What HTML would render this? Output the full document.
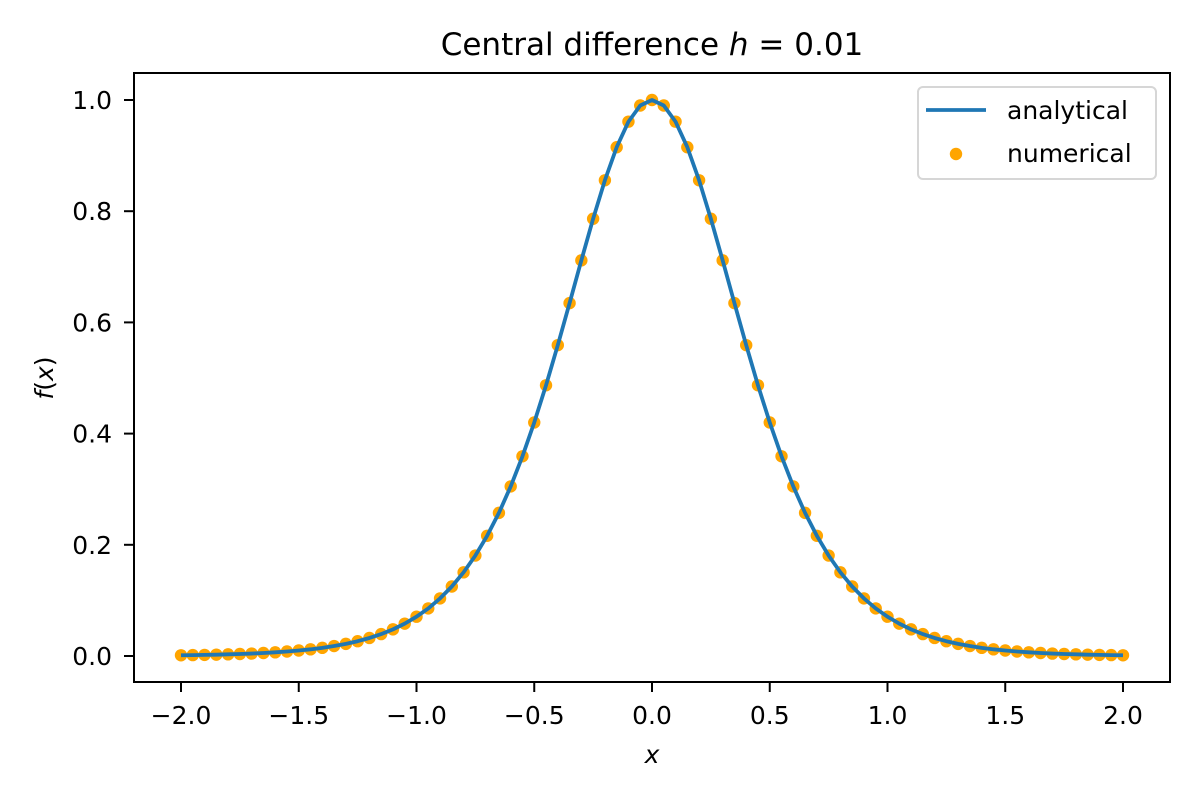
<!DOCTYPE html>
<html><head><meta charset="utf-8"><style>
html,body{margin:0;padding:0;background:#fff;}
svg{display:block;font-family:"DejaVu Sans","Liberation Sans",sans-serif;}
</style></head><body>
<svg id="chart" width="1200" height="800" viewBox="0 0 1200 800"></svg>
<script>
const xValues=[-2.00,-1.95,-1.90,-1.85,-1.80,-1.75,-1.70,-1.65,-1.60,-1.55,-1.50,-1.45,-1.40,-1.35,-1.30,-1.25,-1.20,-1.15,-1.10,-1.05,-1.00,-0.95,-0.90,-0.85,-0.80,-0.75,-0.70,-0.65,-0.60,-0.55,-0.50,-0.45,-0.40,-0.35,-0.30,-0.25,-0.20,-0.15,-0.10,-0.05,0.00,0.05,0.10,0.15,0.20,0.25,0.30,0.35,0.40,0.45,0.50,0.55,0.60,0.65,0.70,0.75,0.80,0.85,0.90,0.95,1.00,1.05,1.10,1.15,1.20,1.25,1.30,1.35,1.40,1.45,1.50,1.55,1.60,1.65,1.70,1.75,1.80,1.85,1.90,1.95,2.00];
const analyticalValues=[0.0013,0.0016,0.0020,0.0024,0.0030,0.0036,0.0044,0.0054,0.0066,0.0081,0.0099,0.0120,0.0147,0.0179,0.0218,0.0266,0.0324,0.0394,0.0479,0.0582,0.0707,0.0856,0.1036,0.1250,0.1505,0.1807,0.2162,0.2574,0.3050,0.3592,0.4200,0.4869,0.5591,0.6347,0.7116,0.7864,0.8556,0.9151,0.9610,0.9901,1.0000,0.9901,0.9610,0.9151,0.8556,0.7864,0.7116,0.6347,0.5591,0.4869,0.4200,0.3592,0.3050,0.2574,0.2162,0.1807,0.1505,0.1250,0.1036,0.0856,0.0707,0.0582,0.0479,0.0394,0.0324,0.0266,0.0218,0.0179,0.0147,0.0120,0.0099,0.0081,0.0066,0.0054,0.0044,0.0036,0.0030,0.0024,0.0020,0.0016,0.0013];
const numericalValues=[0.0013,0.0016,0.0020,0.0024,0.0030,0.0036,0.0044,0.0054,0.0066,0.0081,0.0099,0.0120,0.0147,0.0179,0.0218,0.0266,0.0324,0.0394,0.0479,0.0582,0.0707,0.0856,0.1036,0.1250,0.1505,0.1807,0.2162,0.2574,0.3050,0.3592,0.4200,0.4869,0.5591,0.6347,0.7116,0.7864,0.8556,0.9151,0.9610,0.9901,1.0000,0.9901,0.9610,0.9151,0.8556,0.7864,0.7116,0.6347,0.5591,0.4869,0.4200,0.3592,0.3050,0.2574,0.2162,0.1807,0.1505,0.1250,0.1036,0.0856,0.0707,0.0582,0.0479,0.0394,0.0324,0.0266,0.0218,0.0179,0.0147,0.0120,0.0099,0.0081,0.0066,0.0054,0.0044,0.0036,0.0030,0.0024,0.0020,0.0016,0.0013];
const xTicks=[-2.0,-1.5,-1.0,-0.5,0.0,0.5,1.0,1.5,2.0];
const xTickLabels=["\u22122.0","\u22121.5","\u22121.0","\u22120.5","0.0","0.5","1.0","1.5","2.0"];
const yTicks=[0.0,0.2,0.4,0.6,0.8,1.0];
const yTickLabels=["0.0","0.2","0.4","0.6","0.8","1.0"];

const NS="http://www.w3.org/2000/svg";
const svg=document.getElementById('chart');
const L=134,R=1170,T=73,B=682;
function sx(v){return 652+v*235.5;}
function sy(v){return 656-v*556;}
function mk(tag,attrs,parent){const e=document.createElementNS(NS,tag);for(const k in attrs)e.setAttribute(k,attrs[k]);(parent||svg).appendChild(e);return e;}

const title=mk('text',{x:652,y:55,'text-anchor':'middle','font-size':'31'});


title.innerHTML='Central difference <tspan font-style="italic">h</tspan> = 0.01';

const gPts=mk('g',{});


xValues.forEach((x,i)=>{
  const c=mk('circle',{cx:sx(x),cy:sy(numericalValues[i]),r:6.2,fill:'#ffa500'},gPts);
  
  
});
const line=mk('polyline',{points:xValues.map((x,i)=>sx(x)+','+sy(analyticalValues[i])).join(' '),fill:'none',stroke:'#1f77b4','stroke-width':3.8,'stroke-linejoin':'round'});



const frame=mk('rect',{x:L,y:T,width:R-L,height:B-T,fill:'none',stroke:'#000','stroke-width':2});



xTicks.forEach((v,i)=>{
  const t=mk('line',{x1:sx(v),x2:sx(v),y1:B,y2:B+10,stroke:'#000','stroke-width':2});
  
  
  const lb=mk('text',{x:sx(v),y:724,'text-anchor':'middle','font-size':'25'});
  lb.textContent=xTickLabels[i];
  
  
});
yTicks.forEach((v,i)=>{
  const t=mk('line',{x1:L-10,x2:L,y1:sy(v),y2:sy(v),stroke:'#000','stroke-width':2});
  
  
  const lb=mk('text',{x:112,y:sy(v)+9,'text-anchor':'end','font-size':'25'});
  lb.textContent=yTickLabels[i];
  
  
});
const xl=mk('text',{x:652,y:763,'text-anchor':'middle','font-size':'25','font-style':'italic'});
xl.textContent='x';


const yl=mk('text',{x:0,y:0,'text-anchor':'middle','font-size':'25',transform:'translate(53,378) rotate(-90)'});
yl.innerHTML='<tspan font-style="italic">f</tspan>(<tspan font-style="italic">x</tspan>)';



const lg=mk('g',{});


const lbx=mk('rect',{x:918,y:87,width:238,height:92,rx:5,fill:'#fff','fill-opacity':0.8,stroke:'#d6d6d6','stroke-width':2},lg);


const ll=mk('line',{x1:926,x2:986,y1:110,y2:110,stroke:'#1f77b4','stroke-width':3.8},lg);


const lt1=mk('text',{x:1007,y:119,'font-size':'25'},lg);
lt1.textContent='analytical';


const lc=mk('circle',{cx:956,cy:154,r:6.2,fill:'#ffa500'},lg);


const lt2=mk('text',{x:1007,y:162,'font-size':'25'},lg);
lt2.textContent='numerical';


</script>
</body></html>
